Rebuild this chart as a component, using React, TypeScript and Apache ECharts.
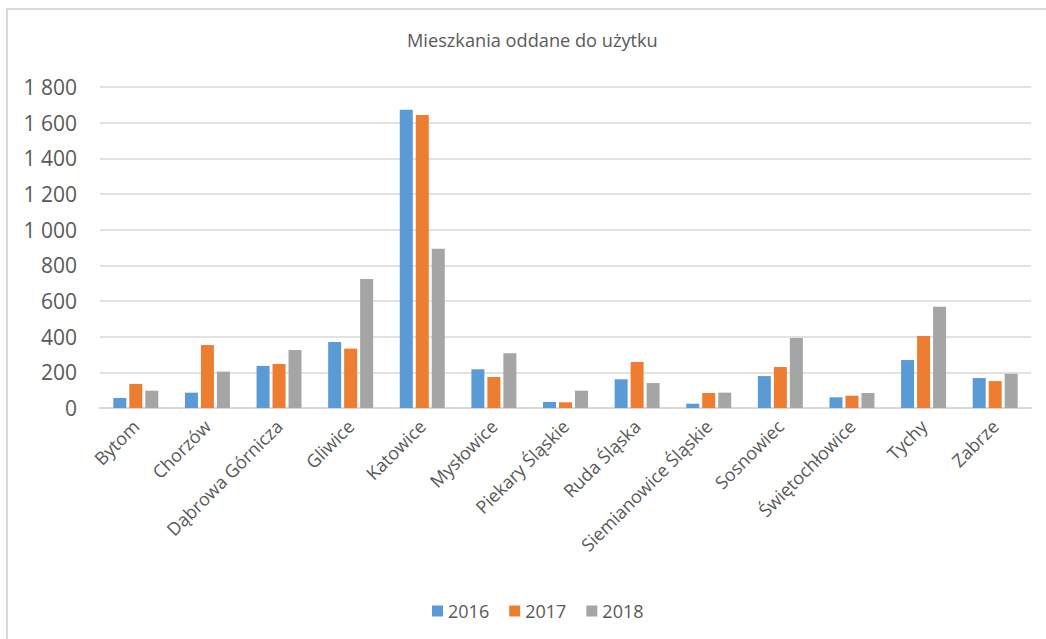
import React, { useEffect, useRef } from "react";
import * as echarts from "echarts";

const categories = [
  "Bytom",
  "Chorzów",
  "Dąbrowa Górnicza",
  "Gliwice",
  "Katowice",
  "Mysłowice",
  "Piekary Śląskie",
  "Ruda Śląska",
  "Siemianowice Śląskie",
  "Sosnowiec",
  "Świętochłowice",
  "Tychy",
  "Zabrze",
];
const values2016 = [56, 86, 236, 370, 1673, 217, 34, 161, 24, 179, 60, 269, 168];
const values2017 = [135, 353, 247, 333, 1643, 174, 32, 258, 84, 230, 69, 404, 151];
const values2018 = [97, 204, 325, 723, 893, 307, 97, 140, 86, 393, 84, 568, 192];
const seriesNames = ["2016", "2017", "2018"];
const colors = ["#5b9bd5", "#ed7d31", "#a5a5a5"];
const titleText = "Mieszkania oddane do użytku";

const FONT = "'Open Sans', sans-serif";

export default function App() {
  const ref = useRef<HTMLDivElement>(null);
  useEffect(() => {
    if (!ref.current) return;
    const chart = echarts.init(ref.current, undefined, { renderer: "svg" });
    const data = [values2016, values2017, values2018];
    chart.setOption({
      animation: false,
      textStyle: { fontFamily: FONT },
      title: {
        text: titleText,
        left: 407,
        top: 31,
        padding: 0,
        textStyle: { fontFamily: FONT, fontSize: 18.2, fontWeight: "normal", color: "#595959" },
      },
      legend: {
        data: seriesNames,
        left: 427,
        top: 597,
        itemWidth: 11,
        itemHeight: 11,
        itemGap: 20,
        icon: "rect",
        textStyle: { fontFamily: FONT, fontSize: 18, color: "#595959" },
      },
      grid: { left: 100, right: 15, top: 87, bottom: 231, containLabel: false },
      xAxis: {
        type: "category",
        data: categories,
        axisLine: { lineStyle: { color: "#d9d9d9", width: 2 } },
        axisTick: { show: false },
        axisLabel: {
          interval: 0,
          rotate: 45,
          margin: 15,
          fontFamily: FONT,
          fontSize: 18,
          color: "#595959",
        },
      },
      yAxis: {
        type: "value",
        min: 0,
        max: 1800,
        interval: 200,
        axisLine: { show: false },
        axisTick: { show: false },
        splitLine: { lineStyle: { color: "#d9d9d9", width: 1.5 } },
        axisLabel: {
          margin: 23,
          fontFamily: FONT,
          fontSize: 21,
          color: "#595959",
          formatter: (v: number) => String(v).replace(/\B(?=(\d{3})+(?!\d))/g, " "),
        },
      },
      graphic: [
        {
          type: "rect",
          shape: { x: 7, y: 9, width: 1100, height: 700 },
          style: { fill: "none", stroke: "#d9d9d9", lineWidth: 2 },
          silent: true,
        },
      ],
      series: seriesNames.map((name, i) => ({
        name,
        type: "bar",
        data: data[i],
        barWidth: 13,
        barGap: "23%",
        itemStyle: { color: colors[i] },
      })),
    });
    return () => chart.dispose();
  }, []);
  return (
    <div
      ref={ref}
      style={{ position: "fixed", left: 0, top: 0, width: 1046, height: 639, background: "#fff" }}
    />
  );
}
